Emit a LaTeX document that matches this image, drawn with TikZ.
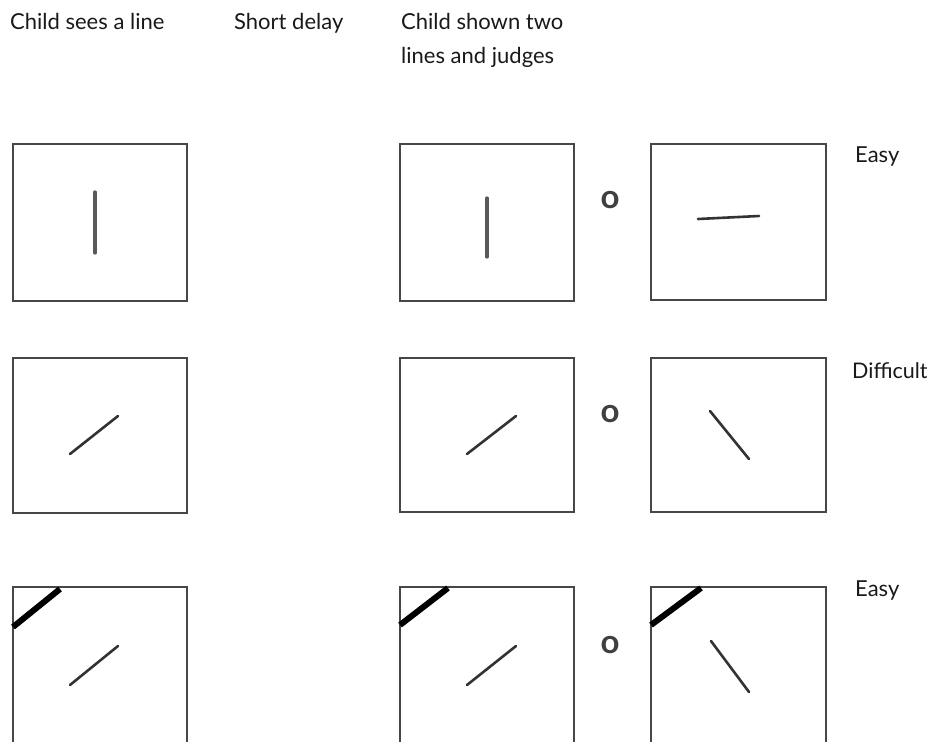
\documentclass[tikz,border=0pt]{standalone}
\usepackage{fontspec}
\setmainfont{Lato}
\begin{document}
\begin{tikzpicture}[x=1pt,y=-1pt,
  lbl/.style={anchor=base west,inner sep=0pt,font=\fontsize{22}{26}\selectfont,text=black!90},
  frame/.style={draw=black!72,line width=2.8pt},
  stim/.style={draw=black!80,line width=2.6pt,line cap=round},
  vstim/.style={draw=black!65,line width=3.2pt,line cap=round},
  thick/.style={draw=black,line width=6pt},
  orsym/.style={inner sep=0pt,font=\fontsize{33}{33}\selectfont\bfseries,text=black!75}]
\useasboundingbox (0,0) rectangle (930,742);
\clip (0,0) rectangle (930,742);
% headers
\node[lbl] (h1) at (10,29) {Child sees a line};
\node[lbl] (h2) at (234,29) {Short delay};
\node[lbl] (h3) at (401,29) {Child shown two};
\node[lbl] (h3b) at (401,63) {lines and judges};
% right labels
\node[lbl] (e1) at (855,162) {Easy};
\node[lbl,font=\fontsize{21.5}{26}\selectfont] (d1) at (852,378) {Difficult};
\node[lbl] (e2) at (855,596) {Easy};
% row 1
\draw[frame] (13,144) rectangle (187,301);
\draw[vstim] (95,192) -- (95,253);
\draw[frame] (400,144) rectangle (574,301);
\draw[vstim] (487,198) -- (487,257);
\node[orsym] (o1) at (610,200) {o};
\draw[frame] (651,144) rectangle (826,300);
\draw[stim] (698,219) -- (759,216);
% row 2
\draw[frame] (13,358) rectangle (187,513);
\draw[stim] (70,454) -- (118,416);
\draw[frame] (400,358) rectangle (574,512);
\draw[stim] (467,454) -- (516,416);
\node[orsym] (o2) at (610,414) {o};
\draw[frame] (651,358) rectangle (826,512);
\draw[stim] (710,411) -- (749,459);
% row 3
\draw[frame] (13,760) -- (13,587) -- (187,587) -- (187,760);
\draw[thick] (13,627) -- (60,589);
\draw[stim] (70,685) -- (118,646);
\draw[frame] (400,760) -- (400,587) -- (574,587) -- (574,760);
\draw[thick] (400,625) -- (448,588);
\draw[stim] (467,685) -- (516,646);
\node[orsym] (o3) at (610,645) {o};
\draw[frame] (651,760) -- (651,587) -- (826,587) -- (826,760);
\draw[thick] (651,625) -- (701,588);
\draw[stim] (711,641) -- (749,692);
\end{tikzpicture}
\end{document}
